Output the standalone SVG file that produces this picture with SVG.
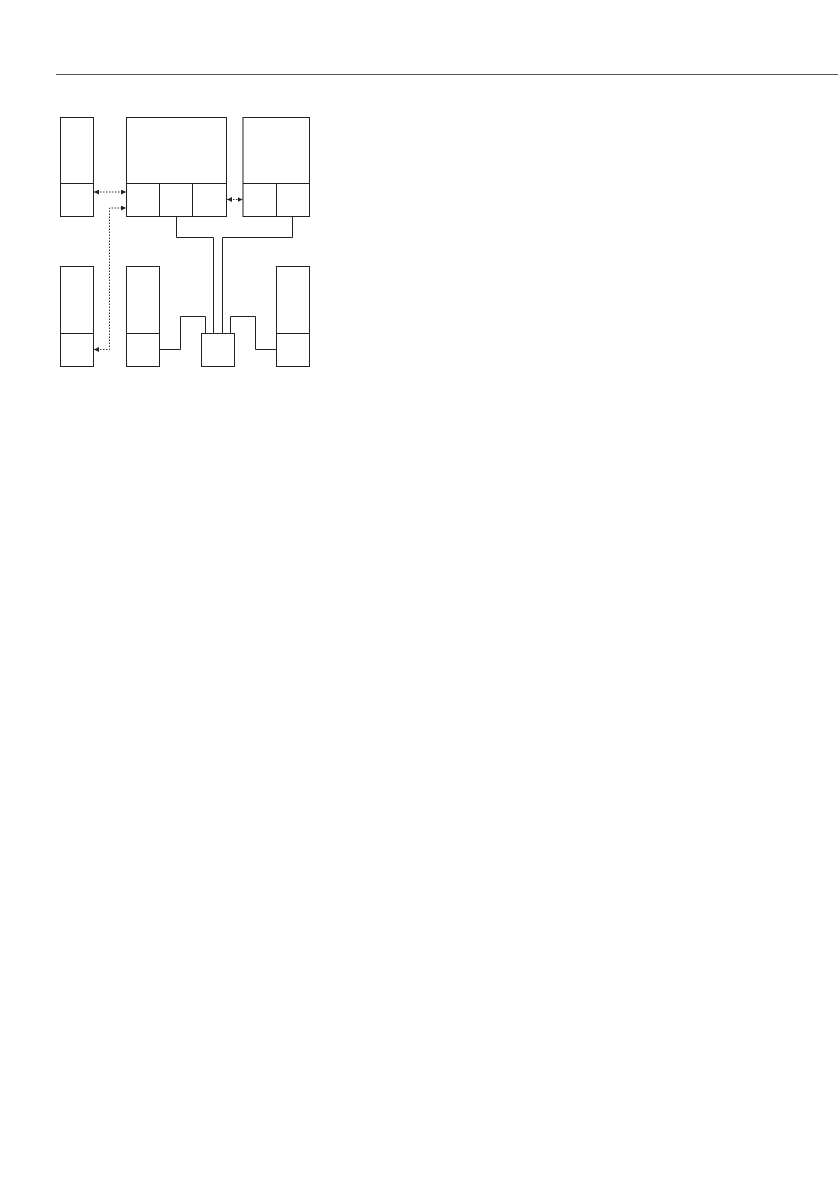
<svg xmlns="http://www.w3.org/2000/svg" width="838" height="1192" viewBox="0 0 838 1192">
<style>
.box{fill:#fff;stroke:#222;stroke-width:1}
.ln{fill:none;stroke:#222;stroke-width:1}
.dot{fill:none;stroke:#333;stroke-width:1;stroke-dasharray:1.5 1.5}
</style>
<defs>
<marker id="ah" viewBox="0 0 6 6" refX="6" refY="3" markerWidth="5" markerHeight="5" orient="auto-start-reverse" markerUnits="userSpaceOnUse">
<path d="M0,0 L6,3 L0,6 Z" fill="#222"/>
</marker>
</defs>
<rect width="838" height="1192" fill="#fff"/>
<line x1="56" y1="74.5" x2="838" y2="74.5" stroke="#555" stroke-width="1"/>
<g id="nodeA"><rect class="box" x="60.5" y="117.5" width="33" height="99"/><line class="ln" x1="60.5" y1="183.5" x2="93.5" y2="183.5"/></g>
<g id="nodeB"><rect class="box" x="126.5" y="117.5" width="100" height="99"/><line class="ln" x1="126.5" y1="183.5" x2="226.5" y2="183.5"/><line class="ln" x1="159.5" y1="183.5" x2="159.5" y2="216.5"/><line class="ln" x1="192.5" y1="183.5" x2="192.5" y2="216.5"/></g>
<g id="nodeC"><rect class="box" x="243" y="117.5" width="66.5" height="99"/><line class="ln" x1="243" y1="183.5" x2="309.5" y2="183.5"/><line class="ln" x1="276.5" y1="183.5" x2="276.5" y2="216.5"/></g>
<g id="nodeD"><rect class="box" x="60.5" y="266.5" width="33" height="100"/><line class="ln" x1="60.5" y1="333.5" x2="93.5" y2="333.5"/></g>
<g id="nodeE"><rect class="box" x="126.5" y="266.5" width="33" height="100"/><line class="ln" x1="126.5" y1="333.5" x2="159.5" y2="333.5"/></g>
<g id="nodeF"><rect class="box" x="276.5" y="266.5" width="33" height="100"/><line class="ln" x1="276.5" y1="333.5" x2="309.5" y2="333.5"/></g>
<g id="nodeG"><rect class="box" x="201.5" y="333.5" width="33" height="33"/></g>
<g id="connectors">
<line class="dot" x1="94" y1="192" x2="126" y2="192" marker-start="url(#ah)" marker-end="url(#ah)"/>
<polyline class="dot" points="94,349.5 109.5,349.5 109.5,208 126,208" marker-start="url(#ah)" marker-end="url(#ah)"/>
<line class="dot" x1="227" y1="199.5" x2="242.5" y2="199.5" marker-start="url(#ah)" marker-end="url(#ah)"/>
<polyline class="ln" points="176.5,216.5 176.5,237.5 213.5,237.5 213.5,333.5"/>
<polyline class="ln" points="292.5,216.5 292.5,237.5 222.5,237.5 222.5,333.5"/>
<polyline class="ln" points="159.5,349.5 180.5,349.5 180.5,316.5 205.5,316.5 205.5,333.5"/>
<polyline class="ln" points="276.5,349.5 255.5,349.5 255.5,316.5 230.5,316.5 230.5,333.5"/>
</g>
</svg>
